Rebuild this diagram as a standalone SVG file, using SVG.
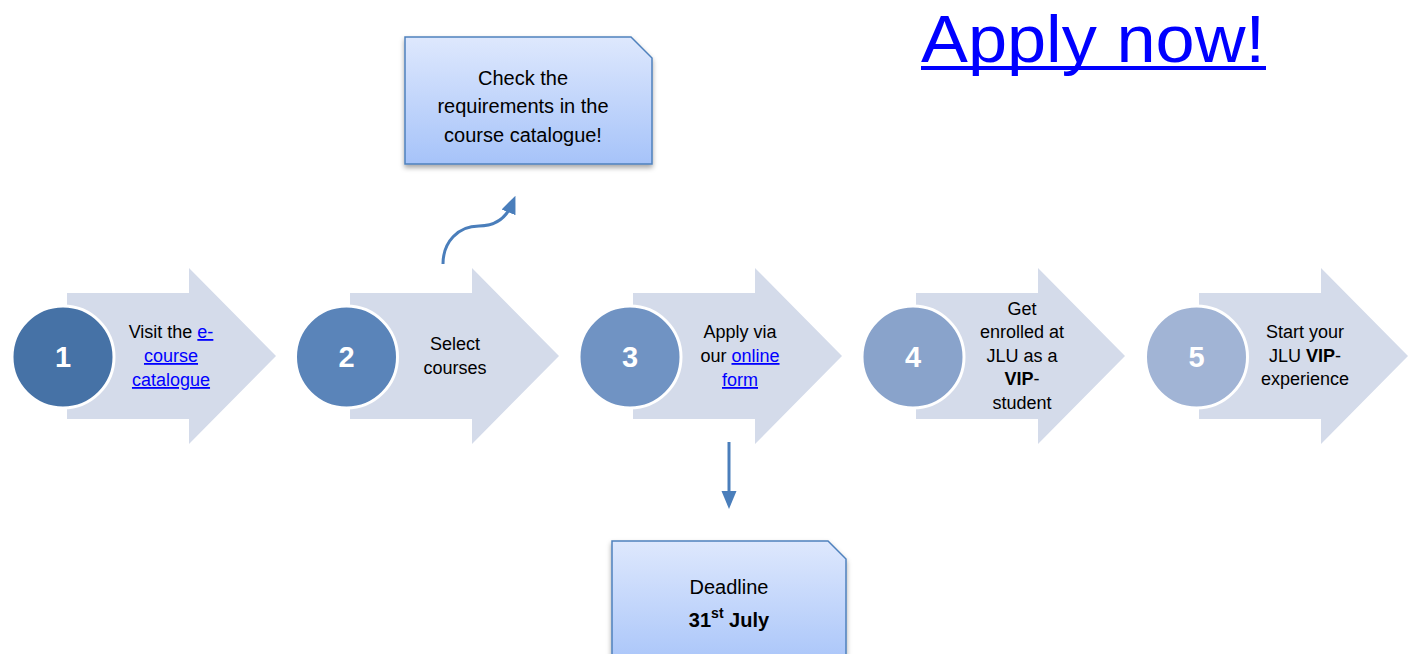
<svg xmlns="http://www.w3.org/2000/svg" width="1413" height="654" viewBox="0 0 1413 654">
<style>
.arrow{fill:#d4dbea}
.circ{stroke:#ffffff;stroke-width:3}
.num{font-family:"Liberation Sans",Arial,sans-serif;font-weight:bold;font-size:29px;fill:#ffffff;text-anchor:middle}
.t{font-family:"Liberation Sans",Arial,sans-serif;font-size:18px;fill:#000000;text-anchor:middle}
.link{fill:#0000ff;text-decoration:underline}
.b{font-weight:bold}
.box{fill:url(#boxg);stroke:#4f81bd;stroke-width:1.5}
.bt{font-family:"Liberation Sans",Arial,sans-serif;font-size:20px;fill:#000000;text-anchor:middle}
.conn{fill:none;stroke:#4a7ebb;stroke-width:3}
</style>
<defs>
<linearGradient id="boxg" x1="0" y1="0" x2="0" y2="1">
<stop offset="0" stop-color="#dee8fd"/>
<stop offset="1" stop-color="#a6c3f9"/>
</linearGradient>
<filter id="sh" x="-10%" y="-10%" width="120%" height="130%">
<feDropShadow dx="0" dy="3" stdDeviation="2.5" flood-color="#000000" flood-opacity="0.35"/>
</filter>
<marker id="ah" markerWidth="6" markerHeight="6" refX="3" refY="3" orient="auto" markerUnits="strokeWidth" viewBox="0 0 6 6">
<path d="M0,0.5 L6,3 L0,5.5 Z" fill="#4a7ebb"/>
</marker>
</defs>

<g id="apply-now">
<text x="921" y="62" font-family="Liberation Sans,Arial,sans-serif" font-size="66" fill="#0000ff" textLength="344" lengthAdjust="spacingAndGlyphs">Apply now!</text>
<rect x="921" y="66" width="345" height="4" fill="#0000ff"/>
</g>

<g id="step1">
<polygon class="arrow" points="67,293 189,293 189,268 276,356 189,444 189,419 67,419"/>
<circle class="circ" cx="63" cy="357" r="51" fill="#4672a6"/>
<text class="num" x="63" y="367">1</text>
<text class="t" x="171" y="338">Visit the <tspan class="link">e-</tspan></text>
<text class="t link" x="171" y="362">course</text>
<text class="t link" x="171" y="386">catalogue</text>
</g>

<g id="step2">
<polygon class="arrow" points="350,293 472,293 472,268 559,356 472,444 472,419 350,419"/>
<circle class="circ" cx="346.5" cy="357" r="51" fill="#5a84b9"/>
<text class="num" x="346.5" y="367">2</text>
<text class="t" x="455" y="350">Select</text>
<text class="t" x="455" y="374">courses</text>
</g>

<g id="step3">
<polygon class="arrow" points="633,293 755,293 755,268 842,356 755,444 755,419 633,419"/>
<circle class="circ" cx="630" cy="357" r="51" fill="#7093c3"/>
<text class="num" x="630" y="367">3</text>
<text class="t" x="740" y="338">Apply via</text>
<text class="t" x="740" y="362">our <tspan class="link">online</tspan></text>
<text class="t link" x="740" y="386">form</text>
</g>

<g id="step4">
<polygon class="arrow" points="916,293 1038,293 1038,268 1125,356 1038,444 1038,419 916,419"/>
<circle class="circ" cx="913" cy="357" r="51" fill="#89a3cb"/>
<text class="num" x="913" y="367">4</text>
<text class="t" x="1022" y="315">Get</text>
<text class="t" x="1022" y="338">enrolled at</text>
<text class="t" x="1022" y="362">JLU as a</text>
<text class="t" x="1022" y="385"><tspan class="b">VIP</tspan>-</text>
<text class="t" x="1022" y="409">student</text>
</g>

<g id="step5">
<polygon class="arrow" points="1199,293 1321,293 1321,268 1408,356 1321,444 1321,419 1199,419"/>
<circle class="circ" cx="1196.5" cy="357" r="51" fill="#a1b4d5"/>
<text class="num" x="1196.5" y="367">5</text>
<text class="t" x="1305" y="338">Start your</text>
<text class="t" x="1305" y="362">JLU <tspan class="b">VIP</tspan>-</text>
<text class="t" x="1305" y="385">experience</text>
</g>

<g id="box-requirements">
<path class="box" filter="url(#sh)" d="M405,37 L631,37 L652,58 L652,164 L405,164 Z"/>
<text class="bt" x="523" y="85">Check the</text>
<text class="bt" x="523" y="113">requirements in the</text>
<text class="bt" x="523" y="142">course catalogue!</text>
</g>

<g id="box-deadline">
<path class="box" filter="url(#sh)" d="M612,541 L828,541 L846,559 L846,672 L612,672 Z"/>
<text class="bt" x="729" y="594" font-size="22">Deadline</text>
<text class="bt b" x="729" y="627" font-size="22">31<tspan font-size="14" dy="-9">st</tspan><tspan dy="9"> July</tspan></text>
</g>

<g id="connectors">
<path class="conn" d="M443,264 C443,242 458,226 479,226 C498,226 507,216 512,204" marker-end="url(#ah)"/>
<path class="conn" d="M729,442 L729,500" marker-end="url(#ah)"/>
</g>
</svg>
